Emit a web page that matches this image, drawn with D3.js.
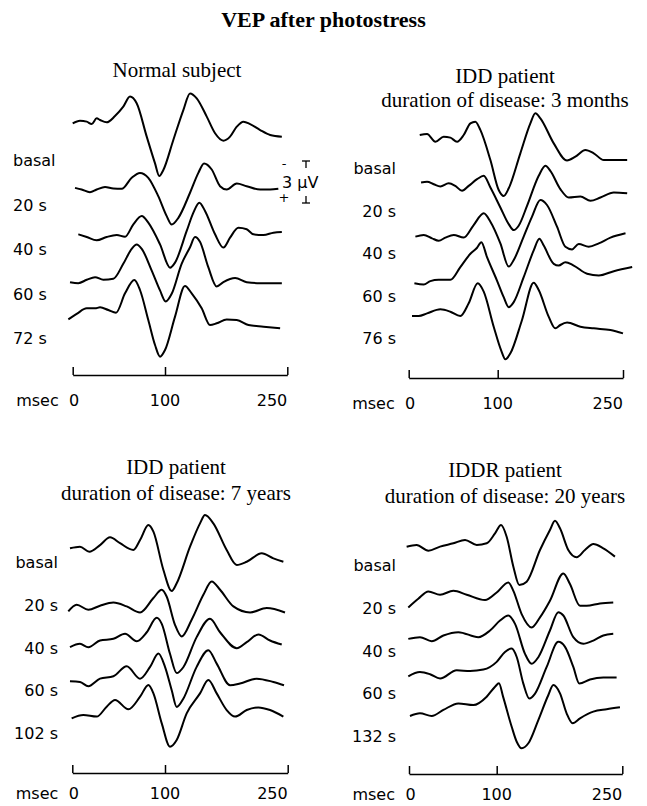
<!DOCTYPE html>
<html>
<head>
<meta charset="utf-8">
<script src="https://cdnjs.cloudflare.com/ajax/libs/d3/7.8.5/d3.min.js"></script>
<style>
  body { margin: 0; background: #fff; }
  text { fill: #000; }
</style>
</head>
<body>
<svg width="647" height="806"></svg>
<script>
// VEP traces: [msec, microvolt], negative = up

// time axis
var tickValues = [0, 100, 250];
var tickLabels = ["0", "100", "250"];

// row labels
var normalLabels = ["basal", "20 s", "40 s", "60 s", "72 s"];
var idd3Labels = ["basal", "20 s", "40 s", "60 s", "76 s"];
var idd7Labels = ["basal", "20 s", "40 s", "60 s", "102 s"];
var iddr20Labels = ["basal", "20 s", "40 s", "60 s", "132 s"];

// normal subject
var normal_basal = [[0,-1.19],[7.9,-1.38],[15.2,-1.31],[20.6,-1.14],[26,-1.55],[29.6,-1.43],[36.8,-1.26],[45.8,-1.71],[54.8,-2.38],[62.1,-3.1],[69.3,-2.62],[80.2,-0.24],[89.2,1.67],[93.8,2.57],[98.2,2.14],[110.2,0],[122.5,-2.14],[130.7,-3.33],[138.9,-2.98],[151.2,-1.67],[161.4,-0.48],[171.6,0.05],[179.8,-0.24],[188,-0.95],[196.2,-1.31],[204.4,-1.14],[216.7,-0.71],[229,-0.36],[243.3,-0.24]];
var normal_20 = [[2.5,0.24],[9.7,0.36],[18.7,0.55],[26,0.36],[35,0.17],[44,0.29],[53.1,0.31],[63.9,-0.48],[72.9,-0.83],[81.9,-0.48],[92.7,0.83],[102.1,2.26],[108.2,2.86],[116.4,2.38],[130.7,0.59],[140.9,-0.83],[147.9,-1.5],[157.3,-1.07],[167.5,0.12],[175.7,0.36],[188,-0.07],[200.2,0.12],[216.7,0.36],[229,0.36],[239,0.31]];
var normal_40 = [[6.1,0.38],[15.2,0.57],[26,0.81],[36.8,0.57],[47.7,0.43],[56.7,0.55],[65.7,-0.33],[74.8,-0.93],[81.9,-0.45],[94.6,1.1],[106.2,2.76],[112.3,2.4],[126.6,0.14],[134.8,-1.17],[142.1,-1.88],[149.1,-1.29],[161.4,0.38],[171.6,1.33],[179.8,0.62],[190,-0.09],[200.2,0.02],[208.5,0.38],[220.8,0.43],[233,0.26],[243.3,0.21]];
var normal_60 = [[-2.9,0.62],[6.1,0.69],[15.2,0.45],[24.2,0.26],[33.2,0.45],[44,0.38],[54.8,-0.69],[63.9,-1.76],[69.3,-2.07],[74.8,-1.76],[85.6,-0.21],[94.6,1.21],[100.8,2.0],[108.2,1.45],[120.4,-0.69],[130.7,-1.88],[136.8,-2.6],[142.9,-2.26],[153.1,-0.45],[163.4,0.93],[171.6,0.62],[186,0.33],[200.2,0.62],[216.7,0.69],[243.3,0.69]];
var normal_72 = [[-4.7,0.1],[4.3,-0.29],[15.2,-0.69],[24.2,-0.69],[29.6,-0.76],[38.6,-0.57],[46.9,-0.38],[56.7,-1.76],[66.8,-2.71],[72.9,-2.0],[81.9,0.14],[89.2,1.93],[94.6,2.76],[100,2.29],[112.3,-0.1],[124.5,-2.29],[132.7,-1.76],[145,-0.69],[155.2,0.5],[163.4,0.38],[175.7,0.1],[188,0.14],[202.4,0.5],[220.8,0.62],[241.2,0.74]];

// IDD patient, 3 months
var idd3_basal = [[12.4,-0.93],[20.6,-1.0],[30,-0.45],[39.3,-0.81],[46.8,-0.74],[54.3,-0.45],[61.8,-0.93],[69.3,-1.76],[74.9,-1.88],[80.5,-1.29],[91.8,0.86],[101.2,3.0],[107.2,3.43],[113.2,2.88],[127.1,0.38],[139.1,-1.76],[145.1,-2.48],[151.1,-2.12],[167.1,-0.33],[183,0.9],[193,0.62],[205,0.14],[215,0.38],[227,0.86],[239,0.86],[255,0.86]];
var idd3_20 = [[13.9,-0.57],[20.6,-0.62],[28.1,-0.45],[35.6,-0.29],[44.9,-0.52],[52.4,-0.33],[59.9,0.02],[67.4,-0.33],[76.8,-0.81],[84.3,-1.05],[91.8,-0.21],[103.2,1.21],[113.2,2.4],[119.2,2.83],[125.1,2.52],[135.1,1.1],[149.1,-1.05],[157.1,-1.76],[163,-1.4],[175,-0.1],[185,0.5],[199,0.43],[211,0.74],[223,0.5],[239,0.14],[255,0.19]];
var idd3_40 = [[7.5,0.26],[16.9,0.14],[26.2,0.38],[33.7,0.55],[41.2,0.33],[50.6,0.14],[61.8,0.33],[73,-0.57],[84.3,-1.41],[91.8,-0.81],[103.2,0.74],[113.2,2.4],[119.2,1.93],[131.1,0.26],[141.1,-1.17],[151.1,-2.36],[159,-2.0],[171,-0.45],[181,0.98],[189,1.17],[197,0.79],[209,0.98],[221,0.74],[235,0.33],[253,0.02]];
var idd3_60 = [[6.4,0.55],[16.9,0.64],[24.3,0.4],[33.7,0.31],[46.8,0.31],[58,-0.6],[69.3,-1.55],[76.8,-1.98],[81.6,-2.38],[88,-1.31],[99.2,0.36],[107.2,1.55],[113.2,2.26],[119.2,1.9],[131.1,0.12],[143.1,-1.79],[149.9,-2.62],[155.1,-2.14],[167.1,-0.83],[173,-0.71],[181,-0.95],[191,-0.71],[207,-0.12],[221,0],[239,-0.31],[261,-0.6]];
var idd3_76 = [[3.7,-0.14],[11.2,-0.14],[20.6,-0.33],[35.6,-0.62],[46.8,-0.45],[58,-0.14],[67.4,-1.05],[77.5,-2.48],[84.3,-1.88],[95.5,0.62],[104,2.29],[109.2,2.95],[115.2,2.52],[129.1,0.14],[143.1,-2.52],[149.1,-2.0],[161,-0.1],[169,0.74],[175,0.5],[183,0.33],[199,0.62],[215,0.74],[235,0.86],[250,1.1]];

// IDD patient, 7 years
var idd7_basal = [[-2.5,-0.98],[8.3,-1.09],[18.4,-0.74],[29.9,-1.21],[40.7,-1.76],[51.5,-1.34],[65.9,-0.86],[73.1,-1.57],[82.1,-2.64],[87.5,-2.17],[98.3,0.57],[108.2,2.07],[114.3,1.52],[130.6,-1.09],[142.8,-2.76],[148.9,-3.36],[159.1,-2.76],[175.4,-0.86],[187.7,0.21],[199.9,-0.02],[218.2,-0.62],[232.5,-0.26],[244.7,-0.02]];
var idd7_20 = [[-4.3,0.48],[4.7,0],[17.3,0.36],[29.9,0.07],[44.3,-0.16],[58.7,0.12],[73.1,0.55],[87.5,-0.48],[96.5,-1.07],[102,-0.59],[112.2,1.43],[120.4,2.26],[132.6,1.07],[146.9,-0.71],[157.1,-1.66],[167.3,-1.07],[183.6,0.12],[204,0.55],[224.3,0.24],[246.7,0.55]];
var idd7_40 = [[-2.5,-0.02],[8.3,-0.26],[17.3,-0.02],[29.9,-0.5],[44.3,-0.62],[56.9,-0.98],[69.5,-0.45],[80.3,-1.09],[91.1,-2.12],[96.5,-1.69],[106.1,0.45],[114.3,1.83],[122.4,1.41],[138.7,-0.74],[155,-2.05],[167.3,-1.09],[187.7,0.05],[199.9,-0.38],[214.2,-0.93],[228.4,-0.5],[242.7,-0.21]];
var idd7_60 = [[-2.5,-0.64],[8.3,-0.59],[17.3,-0.29],[29.9,-0.83],[44.3,-1.0],[58.7,-1.71],[73.1,-0.83],[83.9,-1.67],[92.9,-2.62],[100,-1.67],[108.2,0],[114.3,1.19],[122.4,0.6],[138.7,-1.67],[153,-2.86],[163.2,-1.9],[179.5,-0.36],[191.7,-0.48],[212.1,-0.83],[232.5,-0.59],[245.5,-0.36]];
var idd7_102 = [[-0.7,-1.05],[11.9,-1.29],[26.3,-1.17],[37.1,-1.88],[46.1,-2.36],[60.5,-1.69],[73.1,-2.59],[82.1,-3.43],[87.5,-2.83],[96.5,-0.69],[106.1,0.98],[114.3,0.5],[126.5,-1.4],[142.8,-2.83],[153,-3.79],[163.2,-2.83],[175.4,-1.64],[185.6,-1.17],[199.9,-1.64],[214.2,-1.83],[228.4,-1.64],[244.7,-1.17]];

// IDDR patient, 20 years
var iddr20_basal = [[-2.7,-1.31],[8.7,-1.43],[22.1,-1.02],[35.4,-1.31],[50.6,-1.55],[63.9,-1.79],[77.2,-1.43],[88.6,-1.55],[98.1,-2.26],[105.2,-2.86],[111.9,-2.02],[119.9,0.12],[127,1.43],[135.8,1.19],[151.7,-1.07],[163.6,-2.5],[169.6,-3.16],[175.6,-2.62],[185.5,-1.07],[195.5,-0.55],[205.4,-1.07],[215.4,-1.5],[227.3,-1.19],[241.2,-0.6]];
var iddr20_20 = [[-0.8,-0.02],[10.6,-0.64],[22.1,-1.16],[35.4,-0.93],[50.6,-1.21],[65.8,-0.93],[86.7,-0.55],[100,-1.09],[113.9,-1.81],[119.9,-1.21],[129.8,0.45],[141.8,1.41],[151.7,0.69],[163.6,-0.5],[179.6,-2.45],[187.5,-1.69],[199.5,-0.14],[207.4,-0.14],[223.3,-0.31],[239.2,-0.38]];
var iddr20_40 = [[-0.8,-0.83],[12.5,-0.95],[25.9,-0.66],[39.2,-1.07],[56.3,-1.31],[79.1,-0.95],[92.4,-1.43],[104,-2.14],[113.9,-2.5],[121.9,-1.9],[133.8,0.24],[141.8,0.95],[149.7,0.48],[163.6,-1.43],[173.6,-2.74],[179.6,-2.5],[191.5,-0.95],[203.4,-0.48],[215.4,-0.71],[227.3,-1.07],[239.2,-1.19]];
var iddr20_60 = [[-0.8,-1.21],[12.5,-1.52],[24,-1.36],[35.4,-1.05],[54.4,-1.64],[69.6,-1.59],[84.8,-1.69],[100,-2.24],[109.9,-2.95],[117.9,-3.19],[123.9,-2.59],[131.8,-0.69],[139,0.38],[145.8,0.02],[159.7,-1.88],[173.6,-3.67],[181.6,-3.31],[191.5,-1.88],[198.7,-0.69],[211.4,-0.98],[227.3,-1.12],[243.2,-1.12]];
var iddr20_132 = [[1.1,-1.43],[12.5,-1.62],[25.9,-1.43],[39.2,-1.86],[56.3,-2.33],[73.4,-2.21],[88.6,-2.81],[98.1,-3.52],[102.7,-3.76],[107.6,-2.81],[117.9,-0.66],[123.9,0.41],[129.8,0.88],[137.8,0.52],[149.7,-1.14],[161.7,-2.93],[167.6,-3.64],[175.6,-3.05],[183.5,-1.62],[190.7,-0.91],[199.5,-1.26],[215.4,-1.74],[231.3,-1.91],[247.2,-2.05]];

// calibration bar
var calValue = 3;

//panel layout
var panels = [
  {titles: ["Normal subject"], titleY: [77], cx: 177, labels: normalLabels,
   traces: [normal_basal, normal_20, normal_40, normal_60, normal_72],
   x0: 72.7, x100: 165, x250: 287.3, axisY: 375, tickDy: 31, rowTop: 160, rowBottom: 338, shift: -20,
   labelX: 13, labelAnchor: "start", calBar: true},
  {titles: ["IDD patient", "duration of disease: 3 months"], titleY: [82.5, 106.5], cx: 505, labels: idd3Labels,
   traces: [idd3_basal, idd3_20, idd3_40, idd3_60, idd3_76],
   x0: 408.7, x100: 497.7, x250: 623, axisY: 378, tickDy: 31, rowTop: 168, rowBottom: 338, shift: -20,
   labelX: 396, labelAnchor: "end"},
  {titles: ["IDD patient", "duration of disease: 7 years"], titleY: [474, 500], cx: 176, labels: idd7Labels,
   traces: [idd7_basal, idd7_20, idd7_40, idd7_60, idd7_102],
   x0: 72.3, x100: 165, x250: 287.7, axisY: 773, tickDy: 26, rowTop: 562, rowBottom: 733, shift: 0,
   labelX: 58, labelAnchor: "end"},
  {titles: ["IDDR patient", "duration of disease: 20 years"], titleY: [477, 503], cx: 505, labels: iddr20Labels,
   traces: [iddr20_basal, iddr20_20, iddr20_40, iddr20_60, iddr20_132],
   x0: 409, x100: 496.7, x250: 622.3, axisY: 774, tickDy: 26, rowTop: 565, rowBottom: 736, shift: 0,
   labelX: 396, labelAnchor: "end"}
];

var svg = d3.select("svg"),
    width = +svg.attr("width"),
    height = +svg.attr("height");

svg.append("rect")
    .attr("width", width)
    .attr("height", height)
    .attr("fill", "#fff");

// main title
svg.append("text")
    .attr("x", width / 2)
    .attr("y", 27)
    .attr("text-anchor", "middle")
    .style("font-family", "'Liberation Serif', 'Times New Roman', serif")
    .style("font-weight", "bold")
    .style("font-size", "22px")
    .text("VEP after photostress");

// microvolts -> pixels, positive goes down
var amp = d3.scaleLinear().domain([0, 1]).range([0, 14]);

var sans = "'DejaVu Sans', sans-serif";

panels.forEach(function(p) {
    var x = d3.scaleLinear()
        .domain(tickValues)
        .range([0, p.x100 - p.x0, p.x250 - p.x0]);

    var row = d3.scalePoint()
        .domain(p.labels)
        .range([p.rowTop, p.rowBottom]);

    //titles
    svg.selectAll(null)
        .data(p.titles)
        .enter().append("text")
        .attr("x", p.cx)
        .attr("y", function(d, i) { return p.titleY[i]; })
        .attr("text-anchor", "middle")
        .style("font-family", "'Liberation Serif', 'Times New Roman', serif")
        .style("font-size", "21px")
        .text(function(d) { return d; });

    //row labels
    svg.selectAll(null)
        .data(p.labels)
        .enter().append("text")
        .attr("x", p.labelX)
        .attr("y", function(d) { return row(d) + 6; })
        .attr("text-anchor", p.labelAnchor)
        .style("font-family", sans)
        .style("font-size", "16px")
        .text(function(d) { return d; });

    var g = svg.append("g")
        .attr("transform", "translate(" + p.x0 + ",0)");

    var line = d3.line()
        .x(function(d) { return x(d[0]); })
        .y(function(d) { return amp(d[1]); })
        .curve(d3.curveMonotoneX);

    //traces
    g.selectAll(".trace")
        .data(p.traces)
        .enter().append("path")
        .attr("class", "trace")
        .attr("transform", function(d, i) { return "translate(0," + (row(p.labels[i]) + p.shift) + ")"; })
        .attr("d", line)
        .attr("fill", "none")
        .attr("stroke", "#000")
        .attr("stroke-width", 2)
        .attr("stroke-linejoin", "round");

    //time axis, ticks point up
    var ax = g.append("g")
        .attr("transform", "translate(0," + p.axisY + ")")
        .call(d3.axisTop(x).tickValues(tickValues).tickSize(8).tickSizeOuter(0).tickFormat(""));
    ax.select(".domain").attr("stroke-width", 1.5);
    ax.selectAll(".tick line").attr("stroke-width", 1.5);

    var anchors = ["middle", "middle", "end"];
    g.selectAll(".tlabel")
        .data(tickValues)
        .enter().append("text")
        .attr("class", "tlabel")
        .attr("x", function(d, i) { return x(d) + (i == 0 ? 1.5 : 0); })
        .attr("y", p.axisY + p.tickDy)
        .attr("text-anchor", function(d, i) { return anchors[i]; })
        .style("font-family", sans)
        .style("font-size", "16px")
        .text(function(d, i) { return tickLabels[i]; });

    svg.append("text")
        .attr("x", p.x0 - 14)
        .attr("y", p.axisY + p.tickDy)
        .attr("text-anchor", "end")
        .style("font-family", sans)
        .style("font-size", "16px")
        .text("msec");

    //calibration bar: - on top, + at bottom
    if (p.calBar) {
        var top = 161, bx = 306;
        var cal = svg.append("g").attr("stroke", "#000").attr("stroke-width", 1.3);
        cal.append("line").attr("x1", bx - 4).attr("x2", bx + 4).attr("y1", top).attr("y2", top);
        cal.append("line").attr("x1", bx).attr("x2", bx).attr("y1", top).attr("y2", top + 7);
        cal.append("line").attr("x1", bx - 4).attr("x2", bx + 4).attr("y1", top + amp(calValue)).attr("y2", top + amp(calValue));
        cal.append("line").attr("x1", bx).attr("x2", bx).attr("y1", top + amp(calValue) - 7).attr("y2", top + amp(calValue));

        svg.append("text").attr("x", 284).attr("y", top + 7)
            .attr("text-anchor", "middle")
            .style("font-family", sans).style("font-size", "13px")
            .text("-");
        svg.append("text").attr("x", 282).attr("y", top + amp(calValue / 2) + 6)
            .style("font-family", sans).style("font-size", "16px")
            .text("3 \u00b5V");
        svg.append("text").attr("x", 284).attr("y", top + amp(calValue) - 1)
            .attr("text-anchor", "middle")
            .style("font-family", sans).style("font-size", "13px")
            .text("+");
    }
});
</script>
</body>
</html>
